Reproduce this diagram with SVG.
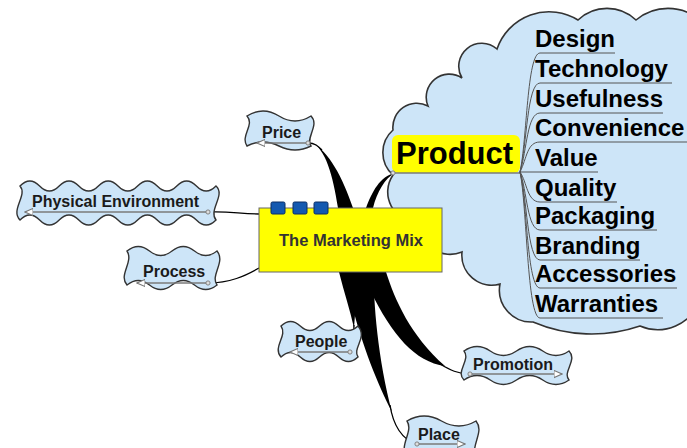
<svg xmlns="http://www.w3.org/2000/svg" width="687" height="448" viewBox="0 0 687 448">
<defs>
<style>
.bub{fill:#cde5f8;stroke:#333;stroke-width:1.4}
.lbl{font-family:"Liberation Sans",Arial,sans-serif;font-weight:bold;font-size:16px;fill:#1a1a1a}
.item{font-family:"Liberation Sans",Arial,sans-serif;font-weight:bold;font-size:24px;fill:#000}
.ul{fill:none;stroke:#7a7a7a;stroke-width:1.3}
.stem{fill:none;stroke:#555;stroke-width:1}
.con{fill:none;stroke:#000;stroke-width:1.3}
.br{fill:#000;stroke:none}
.sq{fill:#1459b0;stroke:#0a2f66;stroke-width:1}
</style>
<marker id="tri" viewBox="0 0 10 10" refX="9" refY="5" markerWidth="9" markerHeight="9" markerUnits="userSpaceOnUse" orient="auto">
<path d="M0,1 L9,5 L0,9 Z" fill="#fff" stroke="#777" stroke-width="1.2"/>
</marker>
<marker id="dot" viewBox="0 0 10 10" refX="5" refY="5" markerWidth="6" markerHeight="6" markerUnits="userSpaceOnUse">
<circle cx="5" cy="5" r="3.5" fill="#ddd" stroke="#777" stroke-width="1.5"/>
</marker>
</defs>
<rect width="687" height="448" fill="#fff"/>

<g id="product-cloud">
<path class="bub" style="stroke-width:1.6" d="M533,322 A32,32 0 0 1 500,284 A30,30 0 0 1 462,252 A32,32 0 0 1 418,222 A30,30 0 0 1 393,175 A30,30 0 0 1 393,130 A24,24 0 0 1 428,106 A23,23 0 0 1 462,78 A23,23 0 0 1 497,49 A55,55 0 0 1 578,20 A42,42 0 0 1 636,20 A50,50 0 0 1 700,20 L700,300 A45,45 0 0 1 640,326 A150,150 0 0 1 533,322 Z"/>
</g>

<g id="connectors">
<path class="con" d="M208,212 C230,211 240,214 259,214"/>
<path class="con" d="M208,283 C230,283 245,276 259,268"/>
<path class="con" d="M308,143 C315,143 318,146 322,150"/>
<path class="br" d="M312,143 C325,148 333,175 338,208 L353,208 C343,178 328,150 312,143 Z"/>
<path class="br" d="M395,173 C380,176 372,192 366,208 L373,208 C377,192 385,178 395,173 Z"/>
<path class="br" d="M339,272 C344,292 350,310 354,328 C355,315 356,300 357,290 L358,272 Z"/>
<path class="br" d="M345,272 L374,272 C373,300 378,360 392,412 C378,385 362,345 352,305 C349,290 347,280 345,272 Z"/>
<path class="br" d="M366,272 L386,272 C395,300 410,335 445,366 C415,362 392,335 370,290 Z"/>
<path class="con" d="M354,325 C354,335 352,345 350,352"/>
<path class="con" d="M390,405 C393,425 402,440 417,444"/>
<path class="con" d="M440,364 C450,370 458,374 470,374"/>
</g>

<g id="product">
<rect x="392" y="135" width="128" height="38" rx="6" fill="#ffff00"/>
<line class="ul" x1="520" y1="173" x2="393" y2="173" marker-end="url(#dot)"/>
<text class="item" x="396" y="164" style="font-size:31px">Product</text>
<g id="product-items">
<path class="stem" d="M520,172 C527,140 527,53 540,53 H615"/>
<path class="stem" d="M520,172 C527,145 527,83 540,83 H672"/>
<path class="stem" d="M520,172 C527,150 527,113 540,113 H663"/>
<path class="stem" d="M520,172 C527,158 527,142 540,142 H687"/>
<path class="stem" d="M520,172 H598"/>
<path class="stem" d="M520,172 C527,182 527,202 540,202 H617"/>
<path class="stem" d="M520,172 C527,190 527,230 540,230 H657"/>
<path class="stem" d="M520,172 C527,195 527,260 540,260 H640"/>
<path class="stem" d="M520,172 C527,200 527,288 540,288 H677"/>
<path class="stem" d="M520,172 C527,205 527,318 540,318 H663"/>
<text class="item" x="535" y="47">Design</text>
<text class="item" x="535" y="77">Technology</text>
<text class="item" x="535" y="107">Usefulness</text>
<text class="item" x="535" y="136">Convenience</text>
<text class="item" x="535" y="166">Value</text>
<text class="item" x="535" y="196">Quality</text>
<text class="item" x="535" y="224">Packaging</text>
<text class="item" x="535" y="254">Branding</text>
<text class="item" x="535" y="282">Accessories</text>
<text class="item" x="535" y="312">Warranties</text>
</g>
</g>

<g id="price">
<path class="bub" d="M247,116 q16,-10 32,0 t32,0 C320,125 305,138 311,146 q-16,8 -32,0 t-32,0 C240,136 255,125 247,116 Z"/>
<text class="lbl" x="262" y="138">Price</text>
<line class="ul" x1="308" y1="143" x2="257" y2="143" marker-start="url(#dot)" marker-end="url(#tri)"/>
</g>

<g id="physical-environment">
<path class="bub" d="M20,186 q9.8,-10 19.6,0 t19.6,0 t19.6,0 t19.6,0 t19.6,0 t19.6,0 t19.6,0 t19.6,0 t19.6,0 t19.6,0 C226,195 208,210 216,220 q-9.8,10 -19.6,0 t-19.6,0 t-19.6,0 t-19.6,0 t-19.6,0 t-19.6,0 t-19.6,0 t-19.6,0 t-19.6,0 t-19.6,0 C10,210 28,195 20,186 Z"/>
<text class="lbl" x="32" y="207">Physical Environment</text>
<line class="ul" x1="208" y1="212" x2="25" y2="212" marker-start="url(#dot)" marker-end="url(#tri)"/>
</g>

<g id="process">
<path class="bub" d="M127,251 q11.25,-9 22.5,0 t22.5,0 t22.5,0 t22.5,0 C226,262 210,275 217,285 q-11.25,9 -22.5,0 t-22.5,0 t-22.5,0 t-22.5,0 C118,275 134,262 127,251 Z"/>
<text class="lbl" x="143" y="277">Process</text>
<line class="ul" x1="208" y1="283" x2="137" y2="283" marker-start="url(#dot)" marker-end="url(#tri)"/>
</g>

<g id="people">
<path class="bub" d="M281,326 q9.6,-9 19.25,0 t19.25,0 t19.25,0 t19.25,0 C368,338 352,348 358,357 q-9.6,9 -19.25,0 t-19.25,0 t-19.25,0 t-19.25,0 C272,347 288,336 281,326 Z"/>
<text class="lbl" x="295" y="347">People</text>
<line class="ul" x1="350" y1="352" x2="290" y2="352" marker-start="url(#dot)" marker-end="url(#tri)"/>
</g>

<g id="promotion">
<path class="bub" d="M464,351 q13,-9 26.25,0 t26.25,0 t26.25,0 t26.25,0 C578,360 562,372 569,380 q-13,9 -26.25,0 t-26.25,0 t-26.25,0 t-26.25,0 C455,372 471,360 464,351 Z"/>
<text class="lbl" x="473" y="370">Promotion</text>
<line class="ul" x1="470" y1="374" x2="562" y2="374" marker-start="url(#dot)" marker-end="url(#tri)"/>
</g>

<g id="place">
<path class="bub" d="M407,421 q17,-10 34.5,0 t34.5,0 C485,432 470,445 476,458 q-17,9 -34.5,0 t-34.5,0 C398,445 414,432 407,421 Z"/>
<text class="lbl" x="418" y="440">Place</text>
<line class="ul" x1="417" y1="444" x2="465" y2="444" marker-start="url(#dot)" marker-end="url(#tri)"/>
</g>

<g id="marketing-mix">
<rect x="259" y="208" width="183" height="64" fill="#ffff00" stroke="#666" stroke-width="1"/>
<rect class="sq" x="271" y="202" width="14" height="12" rx="1.5"/>
<rect class="sq" x="293" y="202" width="14" height="12" rx="1.5"/>
<rect class="sq" x="314" y="202" width="14" height="12" rx="1.5"/>
<text class="lbl" x="351" y="246" text-anchor="middle" style="font-size:16.5px;fill:#333">The Marketing Mix</text>
</g>
</svg>
